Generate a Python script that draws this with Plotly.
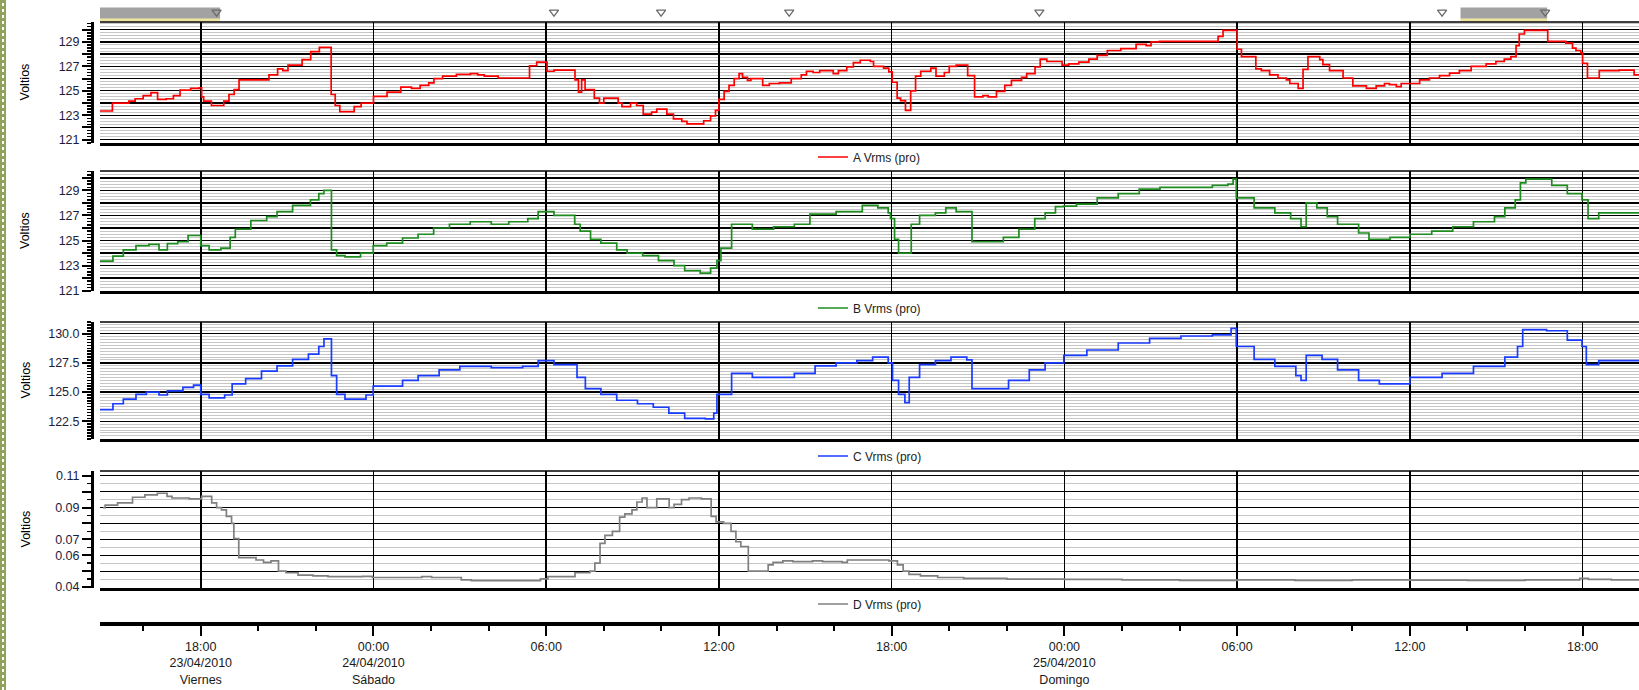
import plotly.graph_objects as go
import pandas as pd

BASE = pd.Timestamp("2010-04-23 00:00")

# ---- data: hours since 23/04/2010 00:00 and step values ----
a_hours = [14.5, 14.93, 15.5, 15.72, 16.0, 16.27, 16.5, 16.8, 17.05, 17.28, 17.65, 17.95, 18.03, 18.1, 18.37,
           18.8, 18.98, 19.16, 19.33, 20.37, 20.67, 20.85, 21.03, 21.52, 21.82, 22.12, 22.53, 22.67, 22.83,
           23.33, 23.57, 24.0, 24.47, 24.95, 25.32, 25.62, 25.92, 26.1, 26.4, 26.88, 27.37, 27.62, 27.85,
           28.33, 29.42, 29.67, 30.03, 30.27, 31.0, 31.12, 31.23, 31.35, 31.67, 31.85, 32.0, 32.5, 32.63,
           32.93, 33.14, 33.37, 33.66, 33.84, 34.19, 34.42, 34.71, 34.89, 35.47, 35.71, 35.88, 36.0, 36.18,
           36.35, 36.53, 36.7, 36.82, 36.99, 37.11, 37.52, 37.75, 38.1, 38.51, 38.86, 39.04, 39.27, 39.5,
           39.97, 40.15, 40.44, 40.67, 40.91, 41.26, 41.37, 41.72, 41.9, 42.02, 42.19, 42.31, 42.48, 42.66,
           42.83, 43.01, 43.36, 43.54, 43.83, 44.0, 44.24, 44.64, 44.88, 45.17, 45.35, 45.64, 45.93, 46.16,
           46.51, 46.69, 46.98, 47.16, 47.39, 47.92, 48.15, 48.5, 48.85, 49.14, 49.49, 49.96, 50.49, 50.84,
           51.01, 51.3, 53.34, 53.51, 54.0, 54.15, 54.65, 54.84, 55.13, 55.42, 55.71, 55.83, 56.12, 56.29,
           56.46, 56.87, 56.98, 57.21, 57.68, 58.02, 58.49, 58.83, 59.12, 59.29, 59.53, 59.7, 60.34, 60.68,
           61.03, 61.38, 61.72, 62.13, 62.65, 62.99, 63.28, 63.51, 63.69, 63.8, 63.98, 64.79, 65.42, 65.65,
           65.77, 65.94, 66.0, 66.17, 66.58, 67.27, 67.79, 68.0]
a_vals = [123.35, 124.0, 124.15, 124.35, 124.6, 124.85, 124.3, 124.35, 124.6, 125.05, 125.2, 125.25, 124.5, 124.15, 123.8,
          124.15, 124.7, 125.1, 125.9, 126.3, 126.8, 126.65, 127.1, 127.55, 128.2, 128.55, 124.7, 123.8, 123.3,
          123.7, 124.0, 124.55, 124.9, 125.3, 125.2, 125.45, 125.65, 126.0, 126.2, 126.35, 126.4, 126.3, 126.2,
          126.05, 127.05, 127.35, 126.6, 126.7, 125.9, 124.9, 125.9, 125.1, 124.4, 124.0, 124.4, 124.0, 123.7,
          124.0, 123.8, 123.1, 123.25, 123.5, 123.1, 122.7, 122.5, 122.3, 122.55, 122.95, 123.4, 124.3, 124.95,
          125.45, 126.0, 126.4, 126.1, 125.85, 126.0, 125.45, 125.6, 125.65, 126.0, 126.3, 126.6, 126.5, 126.65,
          126.4, 126.65, 126.95, 127.3, 127.5, 127.4, 127.0, 126.85, 126.55, 125.7, 124.4, 124.2, 123.4, 125.0,
          126.2, 126.6, 126.85, 126.2, 126.5, 127.0, 127.1, 126.25, 124.5, 124.6, 124.5, 124.95, 125.45, 125.85,
          126.1, 126.4, 126.95, 127.6, 127.4, 127.1, 127.2, 127.35, 127.6, 127.9, 128.3, 128.45, 128.8, 128.7,
          129.0, 129.05, 129.45, 129.95, 128.4, 127.8, 126.8, 126.65, 126.3, 126.05, 125.9, 125.6, 125.2, 126.75,
          127.8, 127.55, 127.15, 126.65, 126.05, 125.4, 125.2, 125.4, 125.6, 125.5, 125.35, 125.6, 125.9, 126.05,
          126.25, 126.45, 126.65, 127.0, 127.2, 127.4, 127.6, 127.8, 128.7, 129.65, 129.95, 129.05, 128.9, 128.5,
          128.3, 128.1, 127.25, 126.05, 126.65, 126.7, 126.3, 126.3]

b_hours = [14.5, 14.95, 15.31, 15.75, 16.2, 16.55, 16.84, 17.2, 17.56, 18.0, 18.29, 18.7, 19.02, 19.2, 19.74,
           20.29, 20.65, 21.19, 21.81, 22.1, 22.28, 22.54, 22.72, 23.01, 23.55, 23.99, 24.46, 25.01, 25.55,
           26.09, 26.64, 27.36, 28.09, 28.7, 29.36, 29.72, 30.27, 30.99, 31.18, 31.54, 31.9, 32.45, 32.81,
           33.35, 33.9, 34.44, 34.81, 35.35, 35.71, 35.93, 36.07, 36.44, 37.16, 37.9, 38.62, 39.16, 40.07,
           40.98, 41.52, 41.88, 41.96, 42.1, 42.24, 42.68, 42.97, 43.52, 43.88, 44.24, 44.79, 45.88, 46.42,
           46.97, 47.33, 47.69, 47.98, 48.42, 49.14, 49.87, 50.6, 51.32, 53.14, 53.68, 53.86, 53.97, 54.59,
           55.31, 55.86, 56.22, 56.4, 56.77, 57.13, 57.49, 58.22, 58.58, 59.31, 60.0, 60.76, 61.49, 62.21,
           62.94, 63.3, 63.66, 63.84, 64.03, 64.93, 65.47, 65.98, 66.19, 66.56, 68.0]
b_vals = [123.35, 123.75, 124.25, 124.6, 124.7, 124.25, 124.75, 124.9, 125.4, 124.6, 124.25, 124.4, 125.25, 125.9,
          126.6, 126.9, 127.3, 127.8, 128.25, 128.75, 129.0, 124.25, 123.8, 123.7, 124.0, 124.6, 124.8, 125.2,
          125.5, 126.0, 126.3, 126.5, 126.3, 126.5, 126.75, 127.3, 127.0, 126.3, 125.75, 125.1, 124.8, 124.25,
          124.0, 123.8, 123.4, 123.0, 122.6, 122.4, 122.8, 123.4, 124.4, 126.3, 125.9, 126.1, 126.3, 127.1,
          127.3, 127.8, 127.6, 127.2, 126.75, 125.1, 124.0, 126.3, 127.0, 127.2, 127.6, 127.3, 124.9, 125.25,
          125.9, 126.75, 127.2, 127.7, 127.75, 127.9, 128.4, 128.75, 129.1, 129.25, 129.4, 129.5, 129.9, 128.4,
          127.6, 127.2, 126.75, 126.1, 128.0, 127.6, 126.9, 126.3, 125.6, 125.1, 125.25, 125.5, 125.75, 126.1,
          126.5, 126.9, 127.6, 128.25, 129.6, 129.9, 129.4, 128.75, 128.25, 126.75, 127.2, 127.2]

c_hours = [14.5, 14.95, 15.31, 15.75, 16.11, 16.55, 16.84, 17.38, 17.75, 18.0, 18.29, 18.83, 19.09, 19.56,
           20.11, 20.65, 21.19, 21.74, 22.1, 22.28, 22.54, 22.72, 23.01, 23.74, 23.99, 25.01, 25.55, 26.28,
           27.0, 28.09, 29.18, 29.72, 30.27, 31.07, 31.36, 31.9, 32.45, 33.17, 33.72, 34.26, 34.81, 35.53,
           35.82, 35.93, 36.44, 37.16, 38.62, 39.34, 40.07, 40.79, 41.34, 41.88, 42.03, 42.24, 42.46, 42.61,
           42.97, 43.52, 44.06, 44.61, 44.79, 45.7, 46.06, 46.78, 47.33, 47.98, 48.78, 49.87, 50.96, 52.05,
           53.14, 53.79, 53.97, 54.59, 55.31, 56.04, 56.22, 56.4, 56.95, 57.49, 58.22, 58.94, 60.0, 61.12,
           62.21, 63.3, 63.74, 63.92, 64.75, 65.47, 65.98, 66.13, 66.56, 68.0]
c_vals = [123.5, 124.0, 124.4, 124.8, 125.0, 124.75, 125.1, 125.4, 125.6, 124.8, 124.5, 124.75, 125.7, 126.15,
          126.8, 127.25, 127.8, 128.25, 128.9, 129.55, 126.4, 124.8, 124.4, 124.75, 125.5, 126.0, 126.4, 126.9,
          127.2, 127.1, 127.2, 127.7, 127.35, 126.25, 125.3, 124.8, 124.3, 124.0, 123.7, 123.2, 122.75, 122.7,
          123.2, 124.8, 126.6, 126.25, 126.6, 127.25, 127.5, 127.7, 128.0, 127.5, 126.0, 124.8, 124.1, 126.25,
          127.35, 127.7, 128.0, 127.75, 125.3, 125.3, 126.0, 126.9, 127.5, 128.15, 128.6, 129.2, 129.6, 129.8,
          129.9, 130.45, 128.9, 127.8, 127.2, 126.4, 126.0, 128.15, 127.8, 126.9, 126.0, 125.7, 126.25, 126.6,
          127.2, 128.0, 128.9, 130.35, 130.25, 129.45, 128.9, 127.35, 127.7, 127.6]

d_hours = [14.6, 14.68, 15.11, 15.63, 16.06, 16.49, 16.83, 17.0, 17.6, 18.03, 18.38, 18.55, 18.72, 18.89,
           19.07, 19.15, 19.32, 19.92, 20.18, 20.44, 20.7, 20.96, 21.38, 21.9, 22.42, 23.62, 23.96, 25.68,
           26.02, 27.05, 27.4, 29.8, 30.06, 31.0, 31.52, 31.69, 31.87, 32.04, 32.3, 32.55, 32.73, 32.98,
           33.15, 33.33, 33.5, 33.84, 34.27, 34.44, 34.7, 34.96, 35.39, 35.73, 35.9, 36.16, 36.42, 36.59,
           36.76, 37.02, 37.71, 37.88, 38.22, 38.57, 39.25, 39.6, 40.28, 40.46, 41.28, 41.9, 42.2, 42.4,
           42.6, 43.0, 43.6, 44.5, 46.0, 48.0, 50.0, 52.0, 54.0, 56.0, 58.0, 60.0, 62.0, 64.0, 65.9, 66.2,
           67.0, 68.0]
d_vals = [0.090, 0.0915, 0.093, 0.0965, 0.098, 0.099, 0.097, 0.096, 0.0955, 0.097, 0.093, 0.090, 0.0885, 0.0845,
          0.080, 0.0705, 0.0585, 0.057, 0.0555, 0.0565, 0.050, 0.049, 0.0475, 0.047, 0.0465, 0.0467, 0.046, 0.0465,
          0.046, 0.0445, 0.044, 0.0452, 0.0465, 0.049, 0.050, 0.055, 0.0675, 0.0725, 0.075, 0.084, 0.086, 0.0885,
          0.0935, 0.096, 0.090, 0.0955, 0.090, 0.092, 0.095, 0.096, 0.0955, 0.0845, 0.081, 0.080, 0.075, 0.0685,
          0.0655, 0.050, 0.054, 0.0555, 0.0565, 0.056, 0.0565, 0.056, 0.0555, 0.057, 0.057, 0.0565, 0.054, 0.050,
          0.048, 0.047, 0.046, 0.0455, 0.045, 0.0448, 0.0445, 0.0442, 0.0445, 0.0442, 0.0445, 0.0443, 0.0442,
          0.0445, 0.0455, 0.0448, 0.0445, 0.0445]

event_hours = [18.55, 30.27, 33.99, 38.44, 47.13, 61.12, 64.7]
band_start_hours = [14.5, 61.76]
band_end_hours = [18.67, 64.77]

x_tick_hours = [18, 24, 30, 36, 42, 48, 54, 60, 66]
x_tick_text = ["18:00<br>23/04/2010<br>Viernes", "00:00<br>24/04/2010<br>Sábado", "06:00", "12:00", "18:00",
               "00:00<br>25/04/2010<br>Domingo", "06:00", "12:00", "18:00"]

series_names = ["A Vrms (pro)", "B Vrms (pro)", "C Vrms (pro)", "D Vrms (pro)"]
series_colors = ["#ff0000", "#1e8c1e", "#1a3cff", "#808080"]


def T(hours):
    return [BASE + pd.Timedelta(hours=h) for h in hours]


W, H = 1639, 690
FONT = "Liberation Sans, Arial, sans-serif"


def fx(p):
    return p / W


def fy(p):
    return 1 - p / H


X_RANGE = [BASE + pd.Timedelta(hours=14.5), BASE + pd.Timedelta(hours=67.96)]
X_DOM = [fx(100), 1.0]

panels = [
    dict(top=22, bot=143, rng=[120.73, 130.63], tv=list(range(121, 131)),
         tt=["121", "", "123", "", "125", "", "127", "", "129", ""], minor=0.25, leg=157),
    dict(top=171, bot=291, rng=[120.97, 130.55], tv=list(range(121, 131)),
         tt=["121", "", "123", "", "125", "", "127", "", "129", ""], minor=0.25, leg=308),
    dict(top=322, bot=439, rng=[120.98, 131.0], tv=[122.5, 125.0, 127.5, 130.0],
         tt=["122.5", "125.0", "127.5", "130.0"], minor=0.25, leg=456),
    dict(top=471, bot=588, rng=[0.0394, 0.1130], tv=[0.04, 0.05, 0.06, 0.07, 0.08, 0.09, 0.10, 0.11],
         tt=["0.04", "", "0.06", "0.07", "", "0.09", "", "0.11"], minor=0.005, leg=604),
]
data = [(a_hours, a_vals), (b_hours, b_vals), (c_hours, c_vals), (d_hours, d_vals)]

fig = go.Figure()
layout = dict(template="none", width=W, height=H, margin=dict(l=0, r=0, t=0, b=0), paper_bgcolor="white",
              plot_bgcolor="white", showlegend=True, font=dict(family=FONT, color="#1a1a1a"))
shapes = []
annotations = []

for i, (p, (hrs, vals)) in enumerate(zip(panels, data)):
    n = i + 1
    xa = "xaxis" if n == 1 else f"xaxis{n}"
    ya = "yaxis" if n == 1 else f"yaxis{n}"
    xr = "x" if n == 1 else f"x{n}"
    yr = "y" if n == 1 else f"y{n}"
    lg = "legend" if n == 1 else f"legend{n}"
    fig.add_trace(go.Scatter(x=T(hrs), y=vals, mode="lines", line=dict(color=series_colors[i], width=1.7, shape="hv"),
                             name=series_names[i], xaxis=xr, yaxis=yr, legend=lg, hoverinfo="skip"))
    layout[xa] = dict(domain=X_DOM, anchor=yr, range=X_RANGE, type="date", tickmode="linear",
                      tick0="2010-04-23 00:00", dtick=6 * 3600000, showticklabels=False, ticks="",
                      showgrid=True, gridcolor="black", gridwidth=1.6, showline=True, linecolor="black",
                      linewidth=3, zeroline=False, fixedrange=True, automargin=False)
    if n > 1:
        layout[xa]["matches"] = "x"
    layout[ya] = dict(domain=[fy(p["bot"]), fy(p["top"])], anchor="free", position=fx(92), range=p["rng"],
                      tickmode="array", tickvals=p["tv"], ticktext=p["tt"], ticks="outside", ticklen=9,
                      tickwidth=2, tickcolor="black", showline=True, linecolor="black", linewidth=3,
                      showgrid=True, gridcolor="black", gridwidth=1.3, zeroline=False, automargin=False,
                      tickfont=dict(family=FONT, size=12.5, color="#1c1c3c"),
                      minor=dict(dtick=p["minor"], tick0=0, showgrid=True, gridcolor="#c6c6c6", gridwidth=1,
                                 ticks="outside", ticklen=4, tickwidth=1.5, tickcolor="black"))
    layout[lg] = dict(x=fx(813), y=fy(p["leg"]), xanchor="left", yanchor="middle", bgcolor="rgba(0,0,0,0)",
                      font=dict(family=FONT, size=12, color="#222222"), itemwidth=30)
    shapes.append(dict(type="line", xref=f"{xr} domain", yref=f"{yr} domain", x0=0, x1=1, y0=1, y1=1,
                       line=dict(color="black", width=1.5)))
    annotations.append(dict(text="Voltios", x=fx(25), y=fy((p["top"] + p["bot"]) / 2), xref="paper", yref="paper",
                            xanchor="center", yanchor="middle", textangle=-90, showarrow=False,
                            font=dict(family=FONT, size=12.5, color="black")))

# bottom time axis
fig.add_trace(go.Scatter(x=[X_RANGE[0]], y=[0], mode="markers", marker=dict(opacity=0), xaxis="x5", yaxis="y5",
                         showlegend=False, hoverinfo="skip"))
layout["xaxis5"] = dict(domain=X_DOM, anchor="y5", matches="x", type="date", tickmode="array",
                        tickvals=T(x_tick_hours), ticktext=x_tick_text, ticks="outside", ticklen=10, tickwidth=2,
                        tickcolor="black", showline=True, linecolor="black", linewidth=4, showgrid=False,
                        zeroline=False, automargin=False, tickfont=dict(family=FONT, size=12.5, color="#1a1a1a"),
                        minor=dict(tickmode="array", tickvals=T([h for h in range(16, 68, 2) if h % 6 != 0]),
                                   ticks="outside", ticklen=5, tickwidth=2, tickcolor="black", showgrid=False))
layout["yaxis5"] = dict(domain=[fy(622), fy(620)], range=[0, 1], visible=False, fixedrange=True, automargin=False)

# event marker strip
for s, e in zip(band_start_hours, band_end_hours):
    fig.add_trace(go.Scatter(x=T([s, e]), y=[0.12, 0.12], mode="lines", line=dict(color="#efe59a", width=3),
                             xaxis="x6", yaxis="y6", showlegend=False, hoverinfo="skip"))
    fig.add_trace(go.Scatter(x=T([s, e]), y=[0.47, 0.47], mode="lines", line=dict(color="#a2a2a2", width=11),
                             xaxis="x6", yaxis="y6", showlegend=False, hoverinfo="skip"))
fig.add_trace(go.Scatter(x=T(event_hours), y=[0.52] * len(event_hours), mode="markers",
                         marker=dict(symbol="triangle-down-open", size=8, color="#6a6a6a", line=dict(width=1.3)),
                         xaxis="x6", yaxis="y6", showlegend=False, hoverinfo="skip"))
layout["xaxis6"] = dict(domain=X_DOM, anchor="y6", matches="x", visible=False, automargin=False)
layout["yaxis6"] = dict(domain=[fy(22), fy(3)], range=[0, 1], visible=False, automargin=False)

# decorative page border on the left
shapes.append(dict(type="rect", xref="paper", yref="paper", x0=0, x1=fx(6), y0=0, y1=1,
                   fillcolor="#8fa45a", line=dict(width=0), layer="below"))
shapes.append(dict(type="line", xref="paper", yref="paper", x0=fx(3), x1=fx(3), y0=0, y1=1,
                   line=dict(color="white", width=2, dash="dot")))

layout["shapes"] = shapes
layout["annotations"] = annotations
fig.update_layout(**layout)
fig.write_html("out.html", config={"displayModeBar": False, "staticPlot": True},
               post_script="document.body.style.margin='0';document.body.style.overflow='hidden';")
